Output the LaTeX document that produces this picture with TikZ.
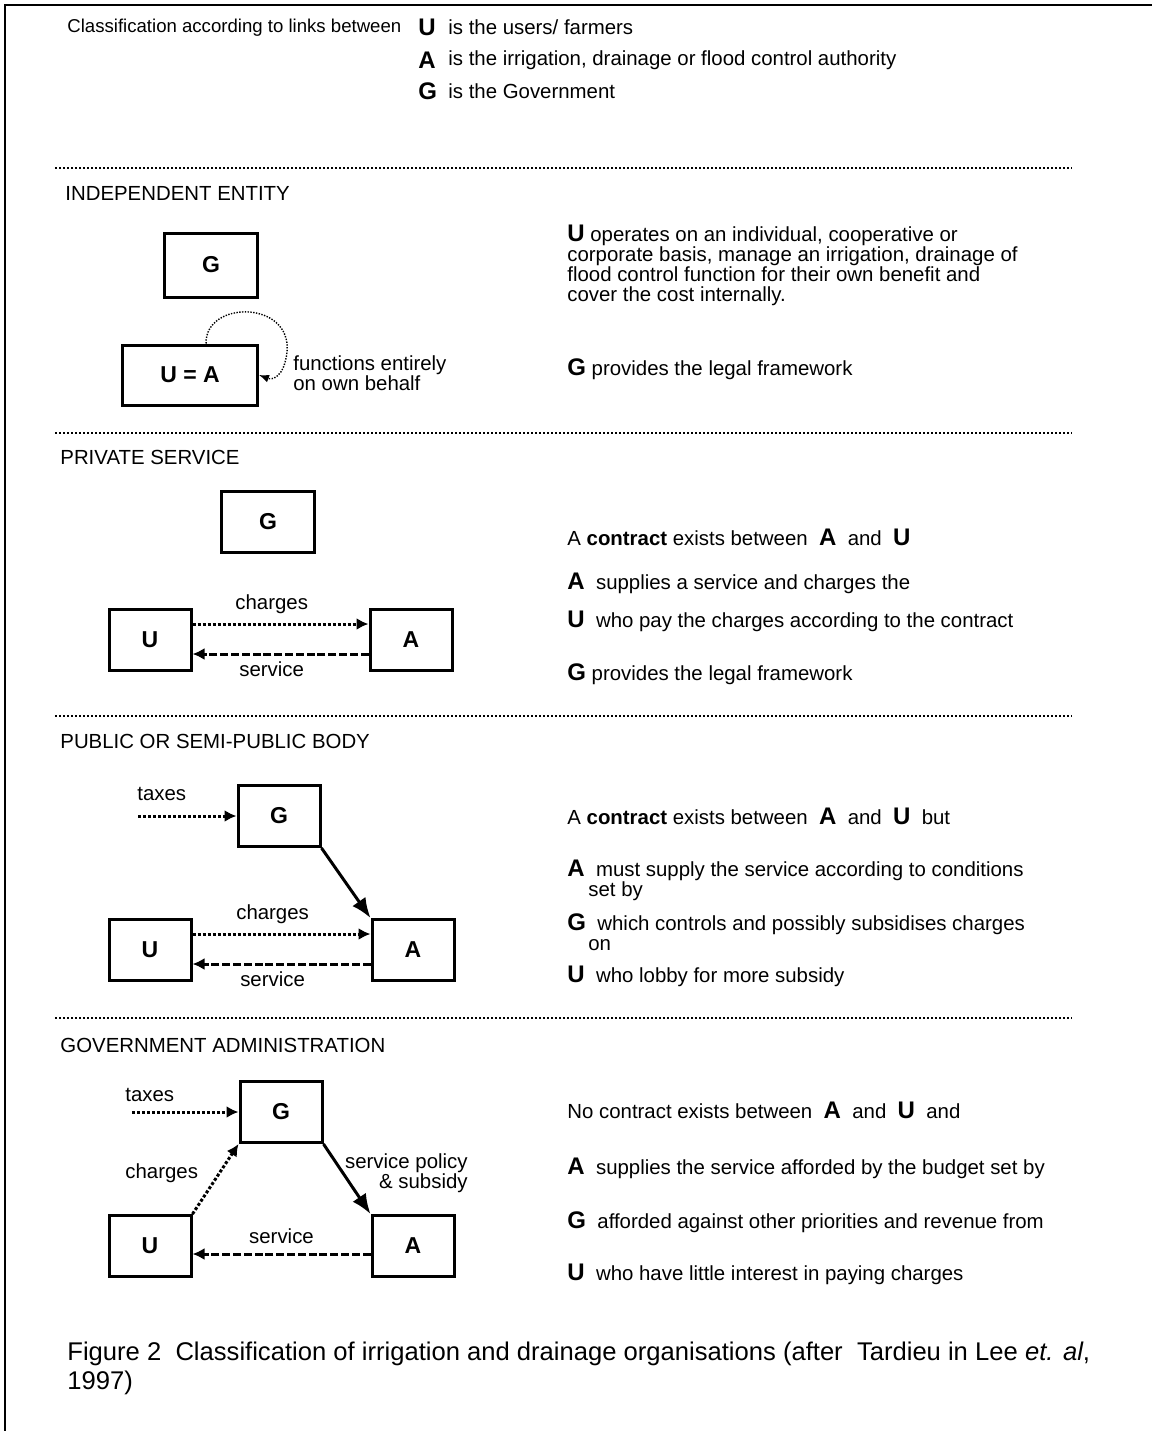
\documentclass[tikz,border=0pt]{standalone}
\usepackage{fontspec}
\setmainfont{Liberation Sans}
\usetikzlibrary{arrows.meta,positioning}
\newcommand{\keyltr}[1]{{\fontsize{12}{12}\selectfont\bfseries #1}}

\begin{document}
\begin{tikzpicture}[x=0.5pt,y=-0.5pt]
        \tikzstyle{every node}=[font=\fontsize{10.2}{10}\selectfont]
        \tikzstyle{box}=[draw,line width=1.5pt,minimum width=41pt,minimum height=30.5pt,inner sep=0pt,font=\fontsize{11.5}{12}\selectfont\bfseries]
        \tikzstyle{txt}=[anchor=west,inner sep=0pt,align=left]
        \tikzstyle{rule}=[line width=1pt,dash pattern=on 1pt off 1pt]
        \tikzstyle{flow}=[line width=1.5pt,dash pattern=on 1.5pt off 1pt,-{Latex[length=6pt,width=6pt]}]
        \tikzstyle{back}=[line width=1.5pt,dash pattern=on 4pt off 1.4pt,-{Latex[length=6pt,width=6pt]}]
        \tikzstyle{ctrl}=[line width=1.5pt,-{Latex[length=10pt,width=8pt]}]
        \tikzstyle{self}=[line width=0.7pt,dash pattern=on 0.7pt off 0.7pt,-{Latex[length=5pt,width=4pt]}]

        \useasboundingbox (0,0) rectangle (1152,1431);
        \draw[line width=1.2pt] (1152,5) -- (5,5) -- (5,1431);

        % key to the letters
        \node[txt,font=\fontsize{9.3}{10}\selectfont] (intro) at (67,28) {Classification according to links between};
        \foreach \k/\y/\t in {U/27/{is the users/ farmers},A/60/{is the irrigation, drainage or flood control authority},G/91/{is the Government}} {
            \node[txt] (key\k) at (418,\y) {\keyltr{\k}};
            \node[txt] (def\k) at (448,\y) {\t};
        };

        % section rules
        \foreach \y in {168,433,716,1018} {
            \draw[rule] (55,\y) -- (1072,\y);
        };

        % independent entity
        \node[txt] (title1) at (65,193) {INDEPENDENT ENTITY};
        \node[box,minimum width=46.5pt,minimum height=32pt] (g1) at (211,265) {G};
        \node[box,minimum width=67.5pt,minimum height=30pt] (ua1) at (190,375) {U = A};
        \draw[self] (ua1.63) .. controls (205,300) and (292,300) .. (287,352) .. controls (284,378) and (272,380) .. (ua1.east);
        \node[txt] (own1) at (293,373) {functions entirely\\on own behalf};
        \node[txt] (note1a) at (567,265) {\keyltr{U} operates on an individual, cooperative or\\corporate basis, manage an irrigation, drainage of\\flood control function for their own benefit and\\cover the cost internally.};
        \node[txt] (note1b) at (567,369) {\keyltr{G} provides the legal framework};

        % private service
        \node[txt] (title2) at (60,457) {PRIVATE SERVICE};
        \node[box,minimum width=46.5pt] (g2) at (268,522) {G};
        \node[box] (u2) at (150,640) {U};
        \node[box] (a2) at (411,640) {A};
        \draw[flow] ([yshift=8pt]u2.east) -- node[above=1pt,pos=0.45]{charges} ([yshift=8pt]a2.west);
        \draw[back] ([yshift=-7pt]a2.west) -- node[below=0pt,pos=0.55]{service} ([yshift=-7pt]u2.east);
        \node[txt] (note2a) at (567,537) {A \textbf{contract} exists between \ \keyltr{A} \ and \ \keyltr{U}};
        \node[txt] (note2b) at (567,583) {\keyltr{A} \ supplies a service and charges the};
        \node[txt] (note2c) at (567,621) {\keyltr{U} \ who pay the charges according to the contract};
        \node[txt] (note2d) at (567,674) {\keyltr{G} provides the legal framework};

        % public or semi-public body
        \node[txt] (title3) at (60,741) {PUBLIC OR SEMI-PUBLIC BODY};
        \node[box] (g3) at (279,816) {G};
        \coordinate (tin3) at (138,816);
        \node[txt] (tax3) at (137,794) {taxes};
        \draw[flow] (tin3) -- (g3.west);
        \node[box] (u3) at (150,950) {U};
        \node[box] (a3) at (413,950) {A};
        \draw[ctrl] (g3.south east) -- (a3.north west);
        \draw[flow] ([yshift=8pt]u3.east) -- node[above=1pt,pos=0.45]{charges} ([yshift=8pt]a3.west);
        \draw[back] ([yshift=-7pt]a3.west) -- node[below=0pt,pos=0.55]{service} ([yshift=-7pt]u3.east);
        \node[txt] (note3a) at (567,816) {A \textbf{contract} exists between \ \keyltr{A} \ and \ \keyltr{U} \ but};
        \node[txt] (note3b) at (567,880) {\keyltr{A} \ must supply the service according to conditions\\\hspace*{10.5pt}set by};
        \node[txt] (note3c) at (567,932) {\keyltr{G} \ which controls and possibly subsidises charges\\\hspace*{10.5pt}on};
        \node[txt] (note3d) at (567,976) {\keyltr{U} \ who lobby for more subsidy};

        % government administration
        \node[txt] (title4) at (60,1045) {GOVERNMENT ADMINISTRATION};
        \node[box] (g4) at (281,1112) {G};
        \coordinate (tin4) at (132,1112);
        \node[txt] (tax4) at (125,1095) {taxes};
        \draw[flow] (tin4) -- (g4.west);
        \node[box] (u4) at (150,1246) {U};
        \node[box] (a4) at (413,1246) {A};
        \draw[flow] (u4.north east) -- (g4.south west);
        \node[txt] (chg4) at (125,1173) {charges};
        \draw[ctrl] (g4.south east) -- (a4.north west);
        \node[anchor=east,inner sep=0pt,align=right] (pol4) at (468,1173) {service policy\\\& subsidy};
        \draw[back] ([yshift=-4pt]a4.west) -- node[above=1pt]{service} ([yshift=-4pt]u4.east);
        \node[txt] (note4a) at (567,1110) {No contract exists between \ \keyltr{A} \ and \ \keyltr{U} \ and};
        \node[txt] (note4b) at (567,1168) {\keyltr{A} \ supplies the service afforded by the budget set by};
        \node[txt] (note4c) at (567,1222) {\keyltr{G} \ afforded against other priorities and revenue from};
        \node[txt] (note4d) at (567,1274) {\keyltr{U} \ who have little interest in paying charges};

        % caption
        \node[txt,font=\fontsize{12.8}{14.5}\selectfont] (caption) at (67,1368) {Figure 2\ \ Classification of irrigation and drainage organisations (after\ \ Tardieu in Lee \textit{et. al},\\1997)};
\end{tikzpicture}
\end{document}
